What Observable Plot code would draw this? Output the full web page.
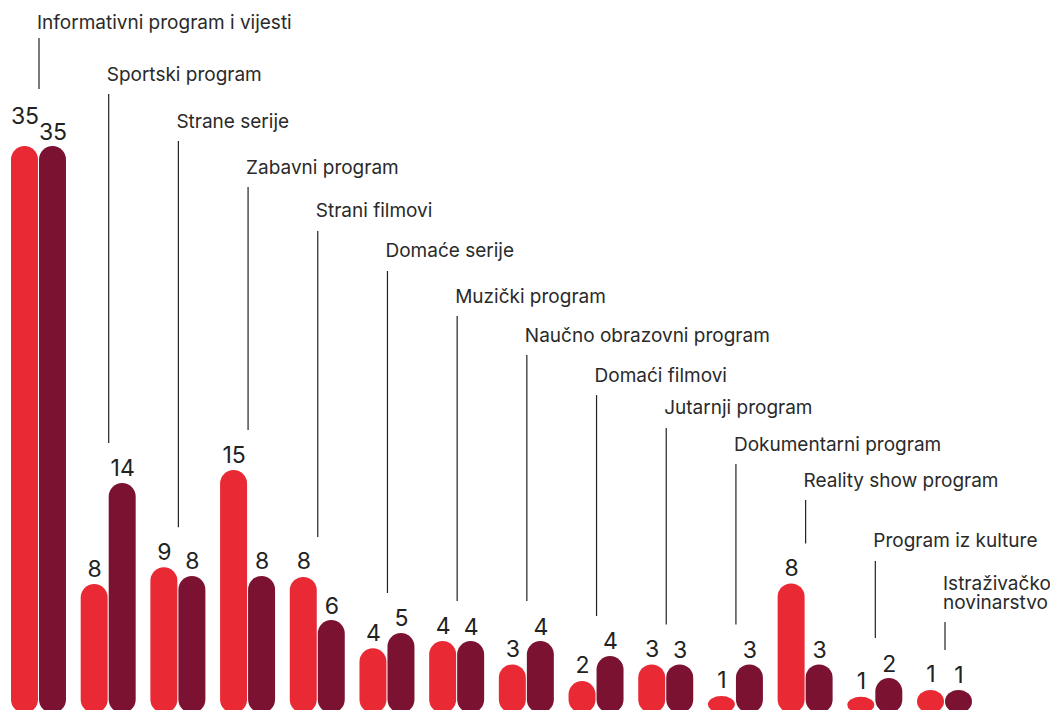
<!DOCTYPE html>
<html>
<head>
<meta charset="utf-8">
<script src="https://cdn.jsdelivr.net/npm/d3@7"></script>
<script src="https://cdn.jsdelivr.net/npm/@observablehq/plot@0.6"></script>
<style>
  html, body { margin: 0; padding: 0; background: #ffffff; }
  #chart svg { display: block; }
</style>
</head>
<body>
<div id="chart"></div>
<script>
// Categories (left to right)
const categories = [
  "Informativni program i vijesti",
  "Sportski program",
  "Strane serije",
  "Zabavni program",
  "Strani filmovi",
  "Domaće serije",
  "Muzički program",
  "Naučno obrazovni program",
  "Domaći filmovi",
  "Jutarnji program",
  "Dokumentarni program",
  "Reality show program",
  "Program iz kulture",
  "Istraživačko\nnovinarstvo"
];

// First series (red bars)
const redValues = [35, 7.96, 9.0, 15.0, 8.4, 4.0, 4.44, 3.0, 1.98, 3.0, 1.05, 8.0, 1.0, 1.42];

// Second series (dark bars)
const darkValues = [35, 14.2, 8.46, 8.46, 5.74, 4.94, 4.44, 4.44, 3.52, 3.0, 3.0, 3.0, 2.16, 1.42];

// Height (in value units) at which each category annotation sits
const labelLevels = [42.28, 39.07, 36.17, 33.33, 30.62, 28.15, 25.37, 22.96, 20.49, 18.46, 16.23, 14.01, 10.25, 6.48];

const RED = "#e92a35";
const DARK = "#7b1232";
const fmt = v => String(Math.round(v));

const rows = categories.map((category, i) => {
  const red = redValues[i], dark = darkValues[i];
  const raised = fmt(red).length > 1 && fmt(dark).length > 1 && Math.abs(red - dark) < 1.2;
  return {category, red, dark, level: labelLevels[i], top: Math.max(red, dark), raised};
});
const normal = rows.filter(d => !d.raised);
const raised = rows.filter(d => d.raised);

const chart = Plot.plot({
  width: 1050,
  height: 710,
  marginTop: 0,
  marginBottom: 0,
  marginLeft: 0,
  marginRight: 0,
  style: {fontFamily: "Inter, 'Open Sans', sans-serif", background: "#ffffff", overflow: "visible"},
  x: {domain: categories, range: [11, 972], paddingInner: 0.211, paddingOuter: 0, round: false, axis: null},
  y: {domain: [0, 35], range: [713, 146], axis: null},
  marks: [
    Plot.barY(rows, {x: "category", y: "red", fill: RED, insetRight: 28, rx: 13.5}),
    Plot.barY(rows, {x: "category", y: "dark", fill: DARK, insetLeft: 28, rx: 13.5}),
    // value labels
    Plot.text(normal, {x: "category", y: "red", text: d => fmt(d.red), dx: -14, dy: -8, lineAnchor: "bottom", fontSize: 23, fill: "#222"}),
    Plot.text(raised, {x: "category", y: "red", text: d => fmt(d.red), dx: -14, dy: -23, lineAnchor: "bottom", fontSize: 23, fill: "#222"}),
    Plot.text(rows, {x: "category", y: "dark", text: d => fmt(d.dark), dx: 14, dy: -7, lineAnchor: "bottom", fontSize: 23, fill: "#222"}),
    // leader lines
    Plot.ruleX(normal, {x: "category", y1: "level", y2: "top", insetTop: 14, insetBottom: 40, stroke: "#222", strokeWidth: 1.2}),
    Plot.ruleX(raised, {x: "category", y1: "level", y2: "top", insetTop: 10, insetBottom: 57, stroke: "#222", strokeWidth: 1.2}),
    // category labels
    Plot.text(rows, {x: "category", y: "level", text: "category", textAnchor: "start", dx: -2, lineAnchor: "bottom", lineHeight: 1.0, fontSize: 19, fill: "#2a2a2a"})
  ]
});
document.getElementById("chart").appendChild(chart);
</script>
</body>
</html>
